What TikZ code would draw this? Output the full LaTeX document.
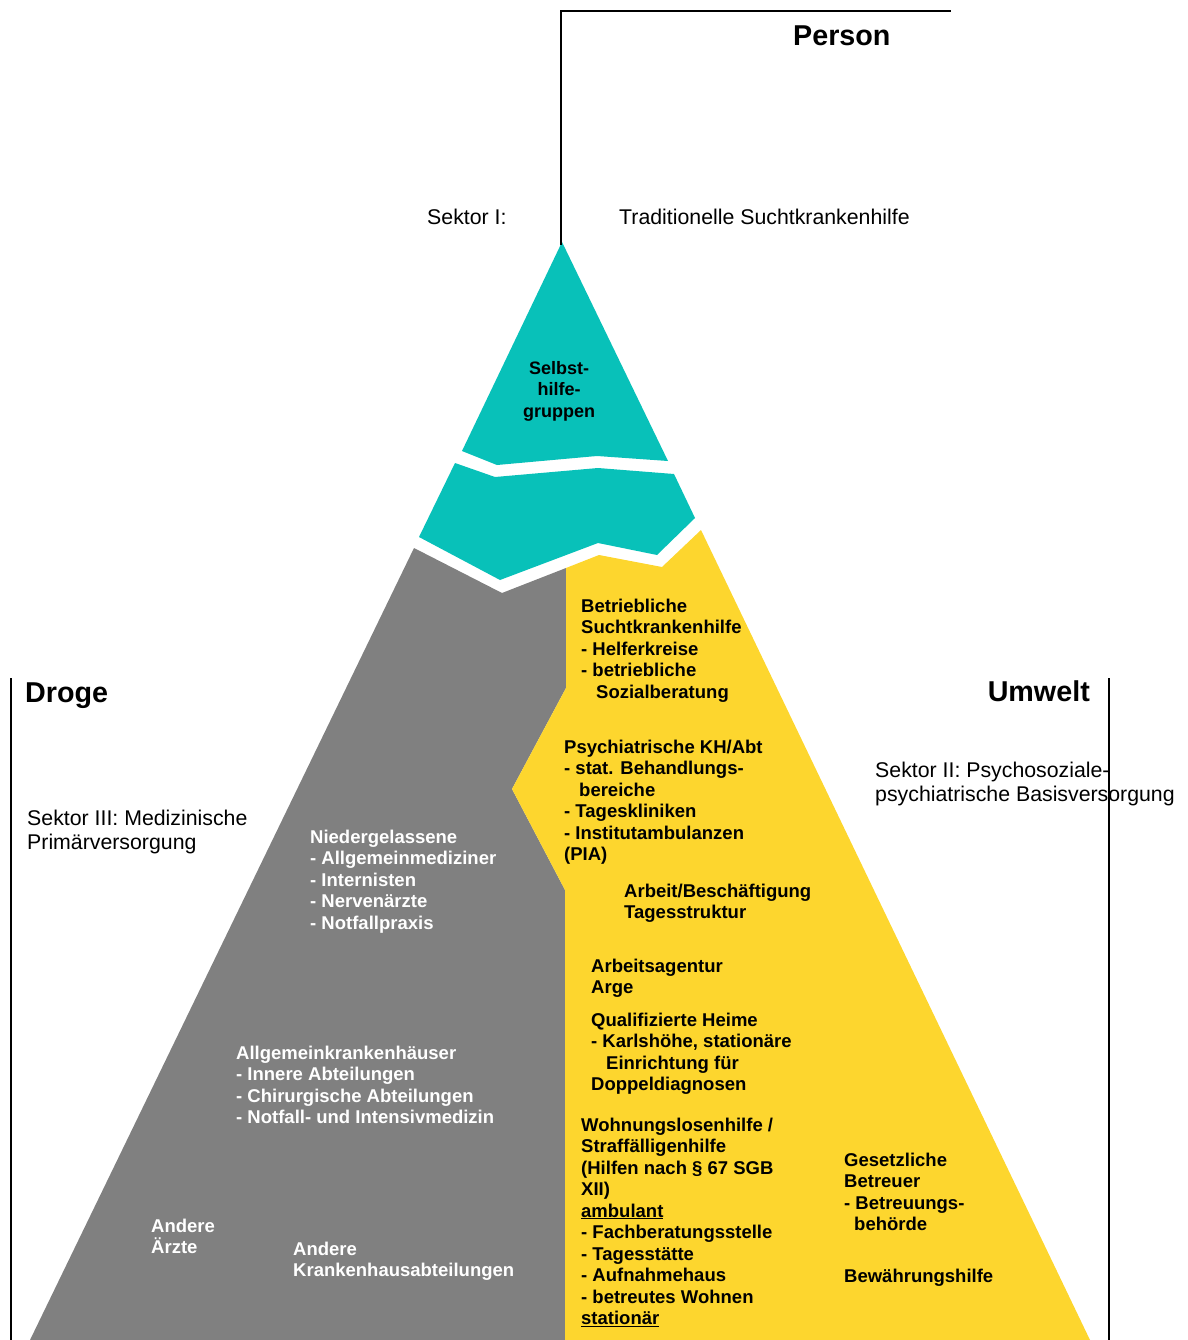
\documentclass[tikz,border=0pt]{standalone}
\usepackage{fontspec}
\setmainfont{Liberation Sans}
\newcommand\mylines[2][21.5pt]{\vtop{\baselineskip=#1\lineskiplimit=-20pt\lineskip=0pt\halign{##\hfil\cr#2\crcr}}}
\newcommand\mylinesc[2][21.5pt]{\vtop{\baselineskip=#1\lineskiplimit=-20pt\lineskip=0pt\halign{\hfil##\hfil\cr#2\crcr}}}
\definecolor{teal}{RGB}{8,193,185}
\definecolor{ygold}{RGB}{253,214,46}
\definecolor{mgray}{RGB}{128,128,128}
\tikzset{
  blk/.style={anchor=base west, inner sep=0pt, font=\fontsize{18.5}{21.5}\selectfont\bfseries},
  wblk/.style={blk, text=white},
  reg/.style={anchor=base west, inner sep=0pt, font=\fontsize{21.3}{24}\selectfont},
  big/.style={inner sep=0pt, font=\fontsize{28.7}{32}\selectfont\bfseries},
  bracket/.style={line width=2.2pt, black},
}
\begin{document}
\begin{tikzpicture}[x=1pt,y=-1pt]
\useasboundingbox (0,0) rectangle (1187,1340);
% pyramid pieces
\fill[teal] (562,242) -- (462,451) -- (497,465) -- (597,456) -- (668,461) -- cycle;
\fill[teal] (455,463) -- (495,477) -- (598,468) -- (674,474) -- (695,518) -- (657,555) -- (598,543) -- (500,580) -- (419,537) -- cycle;
\fill[mgray] (414,548) -- (502,593) -- (566,568) -- (566,688) -- (512,789) -- (565,890) -- (565,1340) -- (30,1340) -- cycle;
\fill[ygold] (566,568) -- (599,555) -- (662,567) -- (701,530) -- (1090,1340) -- (565,1340) -- (565,890) -- (512,789) -- (566,688) -- cycle;

% headings
\node[big, anchor=base west] (person) at (793,46) {Person};
\node[big, anchor=base west] (droge) at (25,702) {Droge};
\node[big, anchor=base east] (umwelt) at (1090,701) {Umwelt};

% sector labels
\node[reg] (s1) at (427,225) {Sektor I:};
\node[reg] (s1b) at (619,225) {Traditionelle Suchtkrankenhilfe};
\node[reg] (s3) at (27,825) {\mylines[24pt]{Sektor III: Medizinische\cr Primärversorgung}};
\node[reg] (s2) at (875,777) {\mylines[24pt]{Sektor II: Psychosoziale-\cr psychiatrische Basisversorgung}};

% teal
\node[blk, anchor=base, font=\fontsize{18}{21.5}\selectfont\bfseries] (shg) at (559,374) {\mylinesc{Selbst-\cr hilfe-\cr gruppen}};

% yellow blocks
\node[blk] (b1) at (581,612) {\mylines{Betriebliche\cr Suchtkrankenhilfe\cr - Helferkreise\cr - betriebliche\cr \hspace*{15pt}Sozialberatung}};
\node[blk] (b2) at (564,753) {\mylines{Psychiatrische KH/Abt\cr - stat. Behandlungs-\cr \hspace*{15pt}bereiche\cr - Tageskliniken\cr - Institutambulanzen\cr (PIA)}};
\node[blk] (b3) at (624,897) {\mylines{Arbeit/Beschäftigung\cr Tagesstruktur}};
\node[blk] (b4) at (591,972) {\mylines{Arbeitsagentur\cr Arge}};
\node[blk] (b5) at (591,1026) {\mylines{Qualifizierte Heime\cr - Karlshöhe, stationäre\cr \hspace*{15pt}Einrichtung für\cr Doppeldiagnosen}};
\node[blk] (b6) at (581,1131) {\mylines{Wohnungslosenhilfe /\cr Straffälligenhilfe\cr (Hilfen nach § 67 SGB\cr XII)\cr \underline{ambulant}\cr - Fachberatungsstelle\cr - Tagesstätte\cr - Aufnahmehaus\cr - betreutes Wohnen\cr \underline{stationär}}};
\node[blk] (b7) at (844,1166) {\mylines{Gesetzliche\cr Betreuer\cr - Betreuungs-\cr \hspace*{10pt}behörde}};
\node[blk] (b8) at (844,1282) {Bewährungshilfe};

% gray blocks
\node[wblk] (g1) at (310,843) {\mylines{Niedergelassene\cr - Allgemeinmediziner\cr - Internisten\cr - Nervenärzte\cr - Notfallpraxis}};
\node[wblk] (g2) at (236,1059) {\mylines{Allgemeinkrankenhäuser\cr - Innere Abteilungen\cr - Chirurgische Abteilungen\cr - Notfall- und Intensivmedizin}};
\node[wblk] (g3) at (151,1232) {\mylines{Andere\cr Ärzte}};
\node[wblk] (g4) at (293,1255) {\mylines{Andere\cr Krankenhausabteilungen}};

% brackets
\coordinate (pa) at (561,245);
\coordinate (pb) at (561,11);
\coordinate (pc) at (951,11);
\coordinate (la) at (11,678);
\coordinate (lb) at (11,1340);
\coordinate (ra) at (1109,678);
\coordinate (rb) at (1109,1340);
\draw[bracket] (pa) -- (pb) -- (pc);
\draw[bracket] (la) -- (lb);
\draw[bracket] (ra) -- (rb);
\end{tikzpicture}
\end{document}
